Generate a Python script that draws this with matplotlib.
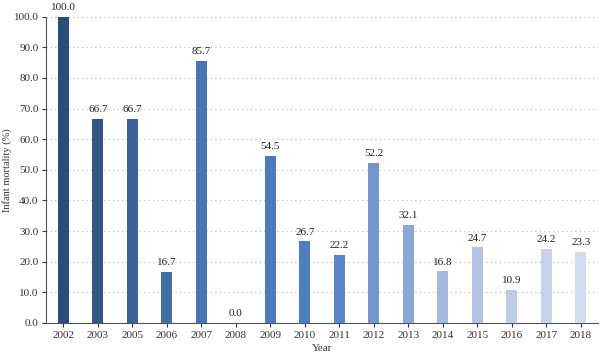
import matplotlib
matplotlib.use("Agg")
import matplotlib.pyplot as plt
from matplotlib.colors import LinearSegmentedColormap
import numpy as np

years = ["2002", "2003", "2005", "2006", "2007", "2008", "2009", "2010",
         "2011", "2012", "2013", "2014", "2015", "2016", "2017", "2018"]
mortality = [100.0, 66.7, 66.7, 16.7, 85.7, 0.0, 54.5, 26.7,
             22.2, 52.2, 32.1, 16.8, 24.7, 10.9, 24.2, 23.3]

plt.rcParams['font.family'] = ['Liberation Serif', 'DejaVu Serif']

cmap = LinearSegmentedColormap.from_list(
    "blues", ["#2b4c78", "#4775b4", "#4d7fc2", "#a9bcdf", "#d3dcec"])
colors = [cmap(v) for v in np.linspace(0, 1, len(years))]

fig = plt.figure(figsize=(6, 3.56), dpi=100)
ax = fig.add_axes([0.077, 0.093, 0.92, 0.86])

x = np.arange(len(years))
bars = ax.bar(x, mortality, width=0.32, color=colors, zorder=3)
for xi, v in zip(x, mortality):
    ax.text(xi, v + 1.5, f"{v:.1f}", ha="center", va="bottom", fontsize=8, color="#222222")

ax.set_xlim(-0.5, 15.5)
ax.set_ylim(0, 100)
ax.set_yticks(np.arange(0, 101, 10))
ax.set_yticklabels([f"{t:.1f}" for t in np.arange(0, 101, 10)])
ax.set_xticks(x)
ax.set_xticklabels(years)
ax.tick_params(labelsize=8, colors="#333333", length=3, pad=2.5)
ax.yaxis.grid(True, linestyle=(0, (1, 3)), color="#bbbbbb", linewidth=0.8)
ax.spines["top"].set_visible(False)
ax.spines["right"].set_visible(False)
for s in ["left", "bottom"]:
    ax.spines[s].set_color("#555555")
ax.set_xlabel("Year", fontsize=8, color="#333333", labelpad=3)
ax.set_ylabel("Infant mortality (%)", fontsize=7.5, color="#333333", labelpad=1)

fig.savefig("out.png", dpi=100)
